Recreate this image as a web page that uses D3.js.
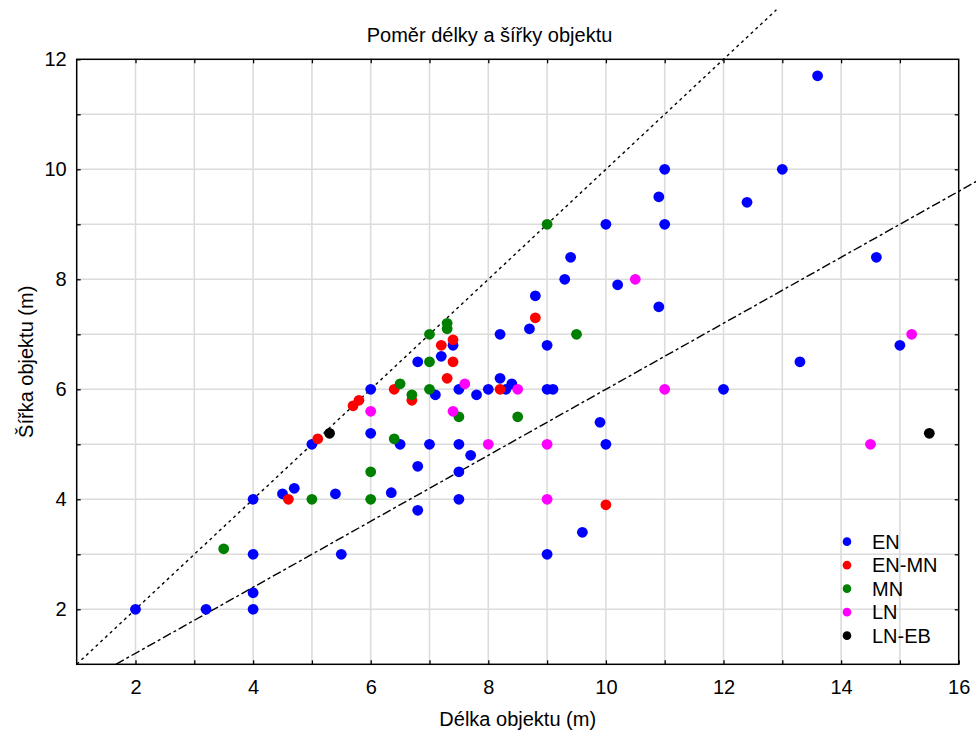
<!DOCTYPE html>
<html>
<head>
<meta charset="utf-8">
<script src="https://cdn.jsdelivr.net/npm/d3@7"></script>
<style>
  body { margin: 0; background: #fff; }
  text { font-family: "Liberation Sans", Arial, sans-serif; fill: #000; }
</style>
</head>
<body>
<svg width="976" height="733"></svg>
<script>
const svg = d3.select('svg');

const margin = { top: 59.3, right: 17.3, bottom: 68.7, left: 76.7 };
const width = 976, height = 733;
const innerWidth = width - margin.left - margin.right;
const innerHeight = height - margin.top - margin.bottom;

// categories + colours
const groups = ['EN', 'EN-MN', 'MN', 'LN', 'LN-EB'];
const colors = ['#0000ff', '#ff0000', '#008000', '#ff00ff', '#000000'];

// [délka, šířka] per group
const enPoints = [
  [2, 2], [3.2, 2], [4, 2], [4, 2.3], [4, 3], [4, 4], [4.5, 4.1], [4.7, 4.2],
  [5, 5], [5.4, 4.1], [5.5, 3], [6, 6], [6, 5.2], [6.35, 4.12], [6.5, 5],
  [6.8, 6.5], [6.8, 4.6], [6.8, 3.8], [7, 5], [7.1, 5.9], [7.2, 6.6], [7.4, 6.8],
  [7.5, 6], [7.5, 5], [7.5, 4.5], [7.5, 4], [7.7, 4.8], [7.8, 5.9], [8, 6],
  [8.2, 7], [8.2, 6.2], [8.3, 6], [8.4, 6.1], [8.7, 7.1], [8.8, 7.7], [9, 6.8],
  [9, 6], [9.1, 6], [9, 3], [9.3, 8], [9.4, 8.4], [9.6, 3.4], [9.9, 5.4],
  [10, 9], [10, 5], [10.2, 7.9], [10.9, 9.5], [10.9, 7.5], [11, 10], [11, 9],
  [12, 6], [12.4, 9.4], [13, 10], [13.3, 6.5], [13.6, 11.7], [14.6, 8.4], [15, 6.8]
];
const enMnPoints = [
  [4.6, 4], [5.1, 5.1], [5.7, 5.7], [5.8, 5.8], [6.4, 6], [6.7, 5.8], [7.2, 6.8],
  [7.3, 6.2], [7.4, 6.9], [7.4, 6.5], [8.2, 6], [8.8, 7.3], [10, 3.9]
];
const mnPoints = [
  [3.5, 3.1], [5, 4], [6, 4.5], [6, 4], [6.4, 5.1], [6.5, 6.1], [6.7, 5.9],
  [7, 7], [7, 6.5], [7, 6], [7.3, 7.2], [7.3, 7.1], [7.5, 5.5], [8.5, 5.5],
  [9, 9], [9.5, 7]
];
const lnPoints = [
  [6, 5.6], [7.4, 5.6], [7.6, 6.1], [8, 5], [8.5, 6], [9, 5], [9, 4],
  [10.5, 8], [11, 6], [14.5, 5], [15.2, 7]
];
const lnEbPoints = [[5.3, 5.2], [15.5, 5.2]];
const series = [enPoints, enMnPoints, mnPoints, lnPoints, lnEbPoints];

// reference lines y = k * x
const slopeLines = [
  { k: 1, from: 1, to: 12.9, dash: '3,3.5' },
  { k: 0.6, from: 1 / 0.6, to: 16.7, dash: '9,3,3,3' }
];

const x = d3.scaleLinear().domain([1, 16]).range([0, innerWidth]);
const y = d3.scaleLinear().domain([1, 12]).range([innerHeight, 0]);

const g = svg.append('g')
  .attr('transform', `translate(${margin.left}, ${margin.top})`);

// grid every unit
g.append('g').selectAll('line').data(d3.range(2, 16))
  .enter().append('line')
  .attr('x1', d => x(d)).attr('x2', d => x(d))
  .attr('y1', 0).attr('y2', innerHeight)
  .attr('stroke', '#dcdcdc').attr('stroke-width', 1.6);
g.append('g').selectAll('line').data(d3.range(2, 12))
  .enter().append('line')
  .attr('y1', d => y(d)).attr('y2', d => y(d))
  .attr('x1', 0).attr('x2', innerWidth)
  .attr('stroke', '#dcdcdc').attr('stroke-width', 1.6);

// axes: inward ticks on every integer, labels on even ones
const axisB = g.append('g').attr('transform', `translate(0, ${innerHeight})`)
  .call(d3.axisBottom(x).tickValues(d3.range(2, 17, 2)).tickSizeInner(-4).tickSizeOuter(0).tickPadding(16));
const axisL = g.append('g')
  .call(d3.axisLeft(y).tickValues(d3.range(2, 13, 2)).tickSizeInner(-4).tickSizeOuter(0).tickPadding(10));
const axisB2 = g.append('g').attr('transform', `translate(0, ${innerHeight})`)
  .call(d3.axisBottom(x).tickValues(d3.range(3, 16, 2)).tickSizeInner(-4).tickSizeOuter(0));
const axisL2 = g.append('g')
  .call(d3.axisLeft(y).tickValues(d3.range(3, 12, 2)).tickSizeInner(-4).tickSizeOuter(0));
const axisT = g.append('g')
  .call(d3.axisTop(x).tickValues(d3.range(2, 16)).tickSizeInner(-4).tickSizeOuter(0));
const axisR = g.append('g').attr('transform', `translate(${innerWidth}, 0)`)
  .call(d3.axisRight(y).tickValues(d3.range(2, 12)).tickSizeInner(-4).tickSizeOuter(0));

// unlabelled tick sets: drop their text nodes
[axisB2, axisL2, axisT, axisR].forEach(a => a.selectAll('text').remove());

[axisB, axisL, axisB2, axisL2, axisT, axisR].forEach(a => {
  a.select('.domain').remove();
  a.selectAll('line').attr('stroke', '#000').attr('stroke-width', 1.3);
  a.selectAll('text').attr('font-size', '20px').attr('fill', '#000')
    .style('font-family', '"Liberation Sans", Arial, sans-serif');
});

// reference lines (drawn over grid, not clipped)
const line = d3.line().x(d => x(d[0])).y(d => y(d[1]));
g.selectAll('path.ref').data(slopeLines)
  .enter().append('path')
  .attr('class', 'ref')
  .attr('d', d => line([[d.from, d.k * d.from], [d.to, d.k * d.to]]))
  .attr('fill', 'none')
  .attr('stroke', '#000')
  .attr('stroke-width', 1.4)
  .attr('stroke-dasharray', d => d.dash);

// frame
g.append('rect')
  .attr('width', innerWidth).attr('height', innerHeight)
  .attr('fill', 'none').attr('stroke', '#000').attr('stroke-width', 1.5);

// points
series.forEach((pts, i) => {
  g.append('g').selectAll('circle').data(pts)
    .enter().append('circle')
    .attr('cx', d => x(d[0]))
    .attr('cy', d => y(d[1]))
    .attr('r', 5.4)
    .attr('fill', colors[i]);
});

// legend
const legend = g.append('g').attr('transform', `translate(${x(14.1)}, ${y(3.23)})`);
const rows = legend.selectAll('g').data(groups)
  .enter().append('g')
  .attr('transform', (d, i) => `translate(0, ${i * 23.5})`);
rows.append('circle').attr('r', 4.3).attr('fill', (d, i) => colors[i]);
rows.append('text').attr('x', 25).attr('dy', '0.36em')
  .attr('font-size', '20px').text(d => d);

// title (sits a bit left of the plot centre in the original) and axis labels
svg.append('text')
  .attr('x', 489.5).attr('y', 42)
  .attr('text-anchor', 'middle').attr('font-size', '20px')
  .text('Poměr délky a šířky objektu');

svg.append('text')
  .attr('x', margin.left + innerWidth / 2).attr('y', 726)
  .attr('text-anchor', 'middle').attr('font-size', '20px')
  .text('Délka objektu (m)');

svg.append('text')
  .attr('transform', `translate(33, ${margin.top + innerHeight / 2}) rotate(-90)`)
  .attr('text-anchor', 'middle').attr('font-size', '20px')
  .text('Šířka objektu (m)');
</script>
</body>
</html>
